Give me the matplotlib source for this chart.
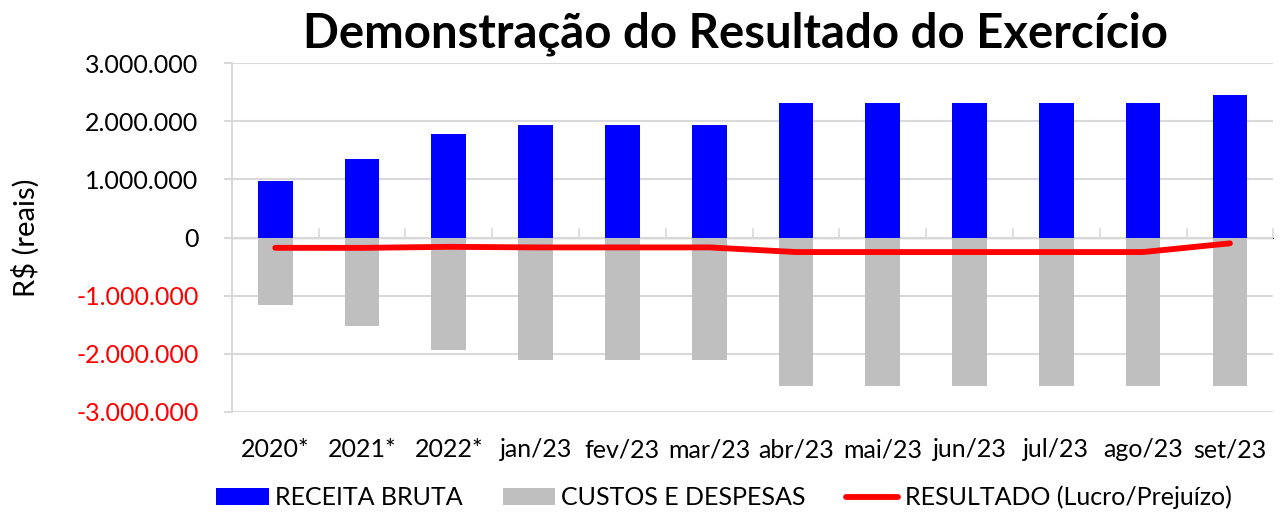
import numpy as np
import matplotlib
matplotlib.use('Agg')
import matplotlib.pyplot as plt
from matplotlib.ticker import FuncFormatter, FixedLocator

plt.rcParams['font.family'] = ['Lato', 'DejaVu Sans']

categorias = ['2020*', '2021*', '2022*', 'jan/23', 'fev/23', 'mar/23', 'abr/23',
              'mai/23', 'jun/23', 'jul/23', 'ago/23', 'set/23']
receita = [980000, 1355000, 1780000, 1930000, 1930000, 1930000, 2310000,
           2310000, 2310000, 2310000, 2310000, 2450000]
custos = [-1155000, -1530000, -1940000, -2100000, -2100000, -2100000, -2555000,
          -2555000, -2555000, -2555000, -2555000, -2550000]
resultado = [-177000, -178000, -160000, -170000, -170000, -170000, -250000,
             -250000, -250000, -250000, -250000, -100000]


def fmt_reais(v, pos):
    s = '{:,.0f}'.format(v).replace(',', '.')
    return s


fig = plt.figure(figsize=(12.81, 5.13), dpi=100)
ax = fig.add_axes([0.181, 0.197, 0.813, 0.680])

x = np.arange(len(categorias))
b1 = ax.bar(x, receita, width=0.4, color='#0000FF', zorder=2, label='RECEITA BRUTA')
b2 = ax.bar(x, custos, width=0.4, color='#BFBFBF', zorder=2, label='CUSTOS E DESPESAS')
l1, = ax.plot(x, resultado, color='#FF0000', lw=4.2, solid_capstyle='round', zorder=3,
              label='RESULTADO (Lucro/Prejuízo)')

ax.set_xlim(-0.5, len(categorias) - 0.5)
ax.set_ylim(-3000000, 3000000)
ax.set_yticks(np.arange(-3000000, 3000001, 1000000))
ax.yaxis.set_major_formatter(FuncFormatter(fmt_reais))
ax.grid(axis='y', color='#D9D9D9', lw=1.5, zorder=0)
ax.set_axisbelow(True)

for s in ['top', 'right', 'bottom']:
    ax.spines[s].set_visible(False)
ax.spines['left'].set_color('#D9D9D9')
ax.spines['left'].set_linewidth(1.5)

ax.tick_params(axis='y', length=6, width=1.5, color='#D9D9D9', labelsize=18, pad=18)
for lbl, v in zip(ax.get_yticklabels(), ax.get_yticks()):
    lbl.set_color('#FF0000' if v < 0 else 'black')

ax.set_xticks(x)
ax.set_xticklabels(categorias)
ax.tick_params(axis='x', length=0, labelsize=18, pad=19)

# eixo de categorias no zero
sec = ax.secondary_xaxis(0.5)
sec.set_xticks([])
sec.xaxis.set_minor_locator(FixedLocator(np.arange(-0.5, len(categorias), 1.0)))
sec.tick_params(axis='x', which='minor', length=7, width=1.2, color='#D9D9D9', direction='out')
sec.spines['bottom'].set_color('#D9D9D9')
sec.spines['bottom'].set_linewidth(1.5)
sec.spines['bottom'].set_zorder(1)

ax.set_ylabel('R$ (reais)', fontsize=21)
ax.yaxis.set_label_coords(-0.184, 0.5)
fig.text(0.574, 0.935, 'Demonstração do Resultado do Exercício', ha='center', va='center',
         fontsize=34, fontweight='bold')

fig.legend([b1, b2, l1], [b1.get_label(), b2.get_label(), l1.get_label()],
           loc='center', bbox_to_anchor=(0.565, 0.03), ncol=3, frameon=False, fontsize=18,
           handlelength=2.1, handleheight=0.7, handletextpad=0.25, columnspacing=1.6)

plt.savefig('out.png', dpi=100)
